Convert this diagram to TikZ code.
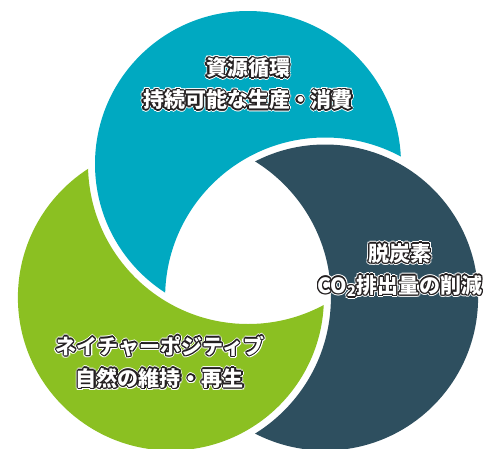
\documentclass[tikz,border=0pt]{standalone}
\usepackage{fontspec}
\setmainfont{Noto Sans CJK JP}
\usetikzlibrary{calc}
\definecolor{cteal}{RGB}{0,169,193}
\definecolor{cdark}{RGB}{46,79,95}
\definecolor{cgreen}{RGB}{139,192,34}
\definecolor{outl}{RGB}{35,31,32}
\tikzset{
  lbl/.style={font=\bfseries\fontsize{21}{32}\selectfont, align=center, inner sep=0pt},
}
\newcommand\olnode[3]{%
  \foreach \a in {0,30,...,330}{\node[lbl,text=white] (#3h\a) at ($(#1)+(\a:2.3pt)$) {#2};}%
  \foreach \a in {0,30,...,330}{\node[lbl,text=outl] (#3o\a) at ($(#1)+(\a:1.2pt)$) {#2};}%
  \node[lbl,text=white] (#3) at (#1) {#2};%
}
\begin{document}
\begin{tikzpicture}[x=1pt,y=-1pt]
\useasboundingbox (0,0) rectangle (496,448);
\def\R{153pt}
\def\G{160pt}
\coordinate (cT) at (248,164);
\coordinate (cD) at (325.1,297.5);
\coordinate (cG) at (170.9,297.5);
% teal: teal circle minus expanded dark circle
\begin{scope}
  \clip (cT) circle[radius=\R];
  \fill[cteal,even odd rule] (-20,-20) rectangle (516,468) (cD) circle[radius=\G];
\end{scope}
% dark: dark circle minus expanded green circle
\begin{scope}
  \clip (cD) circle[radius=\R];
  \fill[cdark,even odd rule] (-20,-20) rectangle (516,468) (cG) circle[radius=\G];
\end{scope}
% green: green circle minus expanded teal circle
\begin{scope}
  \clip (cG) circle[radius=\R];
  \fill[cgreen,even odd rule] (-20,-20) rectangle (516,468) (cT) circle[radius=\G];
\end{scope}
\coordinate (pT) at (248,84);
\coordinate (pD) at (400,270);
\coordinate (pG) at (160,362);
\olnode{pT}{資源循環\\持続可能な生産・消費}{lt}
\olnode{pD}{脱炭素\\CO\textsubscript{2}排出量の削減}{ld}
\olnode{pG}{ネイチャーポジティブ\\自然の維持・再生}{lg}
\end{tikzpicture}
\end{document}
